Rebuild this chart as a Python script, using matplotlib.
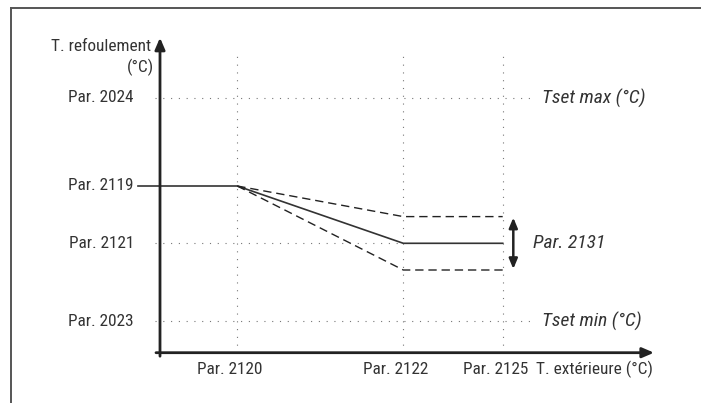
import matplotlib.pyplot as plt
from matplotlib.lines import Line2D

plt.rcParams['font.family'] = ['Roboto Condensed', 'Liberation Sans Narrow', 'Roboto', 'DejaVu Sans']

# schematic values (arbitrary units, origin at axis crossing)
x_names  = ["Par. 2120", "Par. 2122", "Par. 2125"]
x_vals   = [7.73, 24.33, 34.27]
y_names  = ["Par. 2024", "Par. 2119", "Par. 2121", "Par. 2023"]
y_vals   = [25.47, 16.67, 10.94, 3.17]
band     = 2.67                                    # Par. 2131 half width
limit_lbl = ["Tset max (°C)", "Tset min (°C)"]

y_max, y_start, y_set, y_min = y_vals
x_a, x_b, x_c = x_vals

fig = plt.figure(figsize=(7.01, 4.03), dpi=100)
ax = fig.add_axes([0, 0, 1, 1])
ax.set_xlim(-16.0, 54.1)
ax.set_ylim(-5.03, 35.27)
ax.axis('off')

# frame (partial box)
fig.add_artist(Line2D([0.0157, 1.0], [0.980, 0.980], color='#555555', lw=1.4))
fig.add_artist(Line2D([0.0157, 0.0157], [0.0, 0.980], color='#555555', lw=1.4))

dot = dict(color='#777777', lw=0.8, ls=(0, (1, 6)))
dash = dict(color='#222222', lw=1.0, ls=(0, (6, 3.5)))

# vertical guides
for xv in x_vals:
    ax.plot([xv, xv], [0, 30.1], **dot)

# horizontal guides
ax.plot([-0.5, 37.0], [y_max, y_max], **dot)
ax.plot([-0.5, 37.0], [y_min, y_min], **dot)
ax.plot([-0.5, x_b], [y_set, y_set], **dot)

# curves
ax.plot([-2.2, x_a, x_b, x_c], [y_start, y_start, y_set, y_set], color='#333333', lw=1.2)
ax.plot([x_a, x_b, x_c], [y_start, y_set + band, y_set + band], **dash)
ax.plot([x_a, x_b, x_c], [y_start, y_set - band, y_set - band], **dash)

# axes arrows
ax.annotate('', xy=(0, 31.5), xytext=(0, -0.35),
            arrowprops=dict(arrowstyle='-|>,head_length=0.7,head_width=0.3', color='#222222', lw=2.0, shrinkA=0, shrinkB=0))
ax.annotate('', xy=(49.4, 0), xytext=(-0.4, 0),
            arrowprops=dict(arrowstyle='-|>,head_length=0.7,head_width=0.3', color='#222222', lw=2.0, shrinkA=0, shrinkB=0))

# band arrow
ax.annotate('', xy=(35.33, y_set + band - 0.1), xytext=(35.33, y_set - band + 0.1),
            arrowprops=dict(arrowstyle='<|-|>,head_length=0.6,head_width=0.25', color='#222222', lw=1.8, shrinkA=0, shrinkB=0))

fs = 12.4
fi = 14
txt = '#333333'
for name, yv in zip(y_names, y_vals):
    ax.text(-2.6, yv, name, ha='right', va='center', fontsize=fs, color=txt)
for name, xv in zip(x_names, x_vals):
    ax.text(xv - 0.75, -1.65, name, ha='center', va='center', fontsize=fs, color=txt)
ax.text(49.3, -1.65, "T. extérieure (°C)", ha='right', va='center', fontsize=fs, color=txt)
ax.text(-0.9, 30.6, "T. refoulement", ha='right', va='center', fontsize=fs, color=txt)
ax.text(-0.6, 28.5, "(°C)", ha='right', va='center', fontsize=fs, color=txt)

ax.text(38.2, y_max, limit_lbl[0], ha='left', va='center', fontsize=fi, style='italic', color=txt)
ax.text(38.2, y_min, limit_lbl[1], ha='left', va='center', fontsize=fi, style='italic', color=txt)
ax.text(37.3, y_set, "Par. 2131", ha='left', va='center', fontsize=fi, style='italic', color=txt)

fig.savefig("out.png", dpi=100)
